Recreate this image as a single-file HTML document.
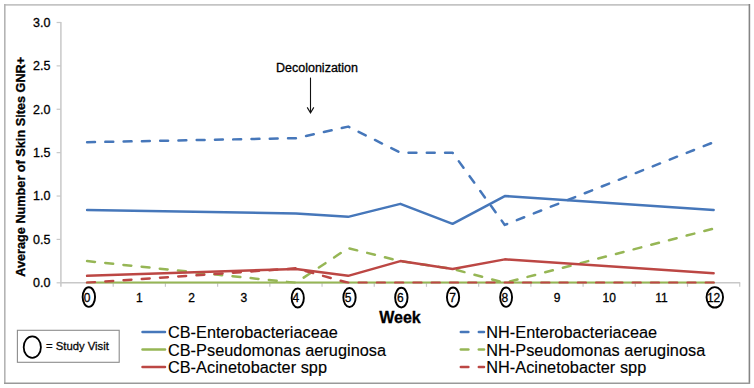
<!DOCTYPE html><html><head><meta charset="utf-8"><style>
html,body{margin:0;padding:0;background:#fff;}
svg{display:block;font-family:"Liberation Sans",sans-serif;} text{stroke:currentColor;stroke-width:0.3px;}
</style></head><body>
<svg width="754" height="388" viewBox="0 0 754 388">
<defs><clipPath id="pa"><rect x="55" y="10" width="690" height="273.4"/></clipPath></defs>
<rect width="754" height="388" fill="#fff"/>
<line x1="4" y1="4.8" x2="750" y2="4.8" stroke="#c4c4c4" stroke-width="1.7"/>
<line x1="4.8" y1="4" x2="4.8" y2="384" stroke="#b4b4b4" stroke-width="1.6"/>
<line x1="749.4" y1="4" x2="749.4" y2="384" stroke="#858585" stroke-width="1.6"/>
<line x1="4" y1="383.3" x2="750" y2="383.3" stroke="#999" stroke-width="1.6"/>
<line x1="60.9" y1="22" x2="60.9" y2="286.8" stroke="#c8c8c8" stroke-width="1.5"/>
<line x1="60.2" y1="282.8" x2="740.2" y2="282.8" stroke="#c8c8c8" stroke-width="1.5"/>
<line x1="56.6" y1="282.80" x2="61" y2="282.80" stroke="#c8c8c8" stroke-width="1.2"/>
<text x="50.5" y="287.10" font-size="12.5" text-anchor="end" fill="#000">0.0</text>
<line x1="56.6" y1="239.42" x2="61" y2="239.42" stroke="#c8c8c8" stroke-width="1.2"/>
<text x="50.5" y="243.72" font-size="12.5" text-anchor="end" fill="#000">0.5</text>
<line x1="56.6" y1="196.03" x2="61" y2="196.03" stroke="#c8c8c8" stroke-width="1.2"/>
<text x="50.5" y="200.33" font-size="12.5" text-anchor="end" fill="#000">1.0</text>
<line x1="56.6" y1="152.65" x2="61" y2="152.65" stroke="#c8c8c8" stroke-width="1.2"/>
<text x="50.5" y="156.95" font-size="12.5" text-anchor="end" fill="#000">1.5</text>
<line x1="56.6" y1="109.26" x2="61" y2="109.26" stroke="#c8c8c8" stroke-width="1.2"/>
<text x="50.5" y="113.56" font-size="12.5" text-anchor="end" fill="#000">2.0</text>
<line x1="56.6" y1="65.88" x2="61" y2="65.88" stroke="#c8c8c8" stroke-width="1.2"/>
<text x="50.5" y="70.18" font-size="12.5" text-anchor="end" fill="#000">2.5</text>
<line x1="56.6" y1="22.49" x2="61" y2="22.49" stroke="#c8c8c8" stroke-width="1.2"/>
<text x="50.5" y="26.79" font-size="12.5" text-anchor="end" fill="#000">3.0</text>
<line x1="113.21" y1="282.8" x2="113.21" y2="286.80" stroke="#c8c8c8" stroke-width="1.2"/>
<line x1="165.42" y1="282.8" x2="165.42" y2="286.80" stroke="#c8c8c8" stroke-width="1.2"/>
<line x1="217.63" y1="282.8" x2="217.63" y2="286.80" stroke="#c8c8c8" stroke-width="1.2"/>
<line x1="269.84" y1="282.8" x2="269.84" y2="286.80" stroke="#c8c8c8" stroke-width="1.2"/>
<line x1="322.05" y1="282.8" x2="322.05" y2="286.80" stroke="#c8c8c8" stroke-width="1.2"/>
<line x1="374.26" y1="282.8" x2="374.26" y2="286.80" stroke="#c8c8c8" stroke-width="1.2"/>
<line x1="426.47" y1="282.8" x2="426.47" y2="286.80" stroke="#c8c8c8" stroke-width="1.2"/>
<line x1="478.68" y1="282.8" x2="478.68" y2="286.80" stroke="#c8c8c8" stroke-width="1.2"/>
<line x1="530.89" y1="282.8" x2="530.89" y2="286.80" stroke="#c8c8c8" stroke-width="1.2"/>
<line x1="583.10" y1="282.8" x2="583.10" y2="286.80" stroke="#c8c8c8" stroke-width="1.2"/>
<line x1="635.31" y1="282.8" x2="635.31" y2="286.80" stroke="#c8c8c8" stroke-width="1.2"/>
<line x1="687.52" y1="282.8" x2="687.52" y2="286.80" stroke="#c8c8c8" stroke-width="1.2"/>
<line x1="739.73" y1="282.8" x2="739.73" y2="286.80" stroke="#c8c8c8" stroke-width="1.2"/>
<text x="87.10" y="301.8" font-size="12" text-anchor="middle" fill="#000">0</text>
<text x="139.31" y="301.8" font-size="12" text-anchor="middle" fill="#000">1</text>
<text x="191.52" y="301.8" font-size="12" text-anchor="middle" fill="#000">2</text>
<text x="243.73" y="301.8" font-size="12" text-anchor="middle" fill="#000">3</text>
<text x="295.94" y="301.8" font-size="12" text-anchor="middle" fill="#000">4</text>
<text x="348.15" y="301.8" font-size="12" text-anchor="middle" fill="#000">5</text>
<text x="400.36" y="301.8" font-size="12" text-anchor="middle" fill="#000">6</text>
<text x="452.57" y="301.8" font-size="12" text-anchor="middle" fill="#000">7</text>
<text x="504.78" y="301.8" font-size="12" text-anchor="middle" fill="#000">8</text>
<text x="556.99" y="301.8" font-size="12" text-anchor="middle" fill="#000">9</text>
<text x="609.20" y="301.8" font-size="12" text-anchor="middle" fill="#000">10</text>
<text x="661.41" y="301.8" font-size="12" text-anchor="middle" fill="#000">11</text>
<text x="713.62" y="301.8" font-size="12" text-anchor="middle" fill="#000">12</text>
<g clip-path="url(#pa)" fill="none" stroke-width="2.5" stroke-linejoin="round" stroke-linecap="round">
<polyline points="87.10,209.91 295.94,213.38 348.15,216.85 400.36,203.84 452.57,223.80 504.78,196.03 713.62,209.91" stroke="#4677ba"/>
<polyline points="87.10,142.23 295.94,138.15 348.15,126.61 400.36,152.65 452.57,152.65 504.78,224.92 713.62,142.23" stroke="#4677ba" stroke-dasharray="7.9 10.37"/>
<polyline points="87.10,282.80 295.94,282.80 348.15,282.80 400.36,282.80 452.57,282.80 504.78,282.80 713.62,282.80" stroke="#96b655"/>
<polyline points="87.10,261.11 295.94,282.80 348.15,248.09 400.36,261.11 452.57,268.92 504.78,282.80 713.62,228.57" stroke="#96b655" stroke-dasharray="7.9 10.37"/>
<polyline points="87.10,275.86 295.94,268.92 348.15,275.86 400.36,261.11 452.57,268.92 504.78,259.37 713.62,273.26" stroke="#bc4744"/>
<polyline points="87.10,282.80 295.94,268.31 348.15,282.80 400.36,282.80 452.57,282.80 504.78,282.80 713.62,282.80" stroke="#bc4744" stroke-dasharray="7.9 10.37"/>
</g>
<ellipse cx="88.85" cy="297.05" rx="6.20" ry="9.80" fill="none" stroke="#000" stroke-width="1.9"/>
<ellipse cx="297.75" cy="298" rx="6.10" ry="9.55" fill="none" stroke="#000" stroke-width="1.9"/>
<ellipse cx="349.5" cy="297.5" rx="6.15" ry="9.55" fill="none" stroke="#000" stroke-width="1.9"/>
<ellipse cx="401.35" cy="297.6" rx="6.20" ry="9.85" fill="none" stroke="#000" stroke-width="1.9"/>
<ellipse cx="453.05" cy="297.2" rx="6.10" ry="9.65" fill="none" stroke="#000" stroke-width="1.9"/>
<ellipse cx="506.1" cy="297.2" rx="5.95" ry="9.65" fill="none" stroke="#000" stroke-width="1.9"/>
<ellipse cx="714.8" cy="297.35" rx="8.25" ry="10.20" fill="none" stroke="#000" stroke-width="1.9"/>
<text transform="translate(25,166.8) rotate(-90)" font-size="12.7" font-weight="bold" text-anchor="middle" fill="#000">Average Number of Skin Sites GNR+</text>
<text x="400" y="322.8" font-size="16" font-weight="bold" text-anchor="middle" fill="#000">Week</text>
<text x="317" y="72.4" font-size="12.5" text-anchor="middle" fill="#000">Decolonization</text>
<line x1="310.5" y1="77.6" x2="310.5" y2="112.6" stroke="#111" stroke-width="1.1"/>
<polyline points="307.2,107.4 310.5,112.9 313.8,107.4" fill="none" stroke="#111" stroke-width="1.1"/>
<rect x="17.4" y="330.3" width="101.8" height="32" fill="#fff" stroke="#8c8c8c" stroke-width="1.1"/>
<ellipse cx="32.3" cy="347.15" rx="8.6" ry="10.75" fill="none" stroke="#000" stroke-width="1.8"/>
<text x="46" y="350.2" font-size="11.3" fill="#111">= Study Visit</text>
<line x1="142.5" y1="332.0" x2="165" y2="332.0" stroke="#4677ba" stroke-width="2.5" stroke-linecap="round"/>
<text x="167.9" y="338.0" font-size="16.3" letter-spacing="0.04" style="stroke-width:0.15px" fill="#000">CB-Enterobacteriaceae</text>
<line x1="142.5" y1="349.5" x2="165" y2="349.5" stroke="#96b655" stroke-width="2.5" stroke-linecap="round"/>
<text x="167.9" y="355.5" font-size="16.3" letter-spacing="0.04" style="stroke-width:0.15px" fill="#000">CB-Pseudomonas aeruginosa</text>
<line x1="142.5" y1="367.0" x2="165" y2="367.0" stroke="#bc4744" stroke-width="2.5" stroke-linecap="round"/>
<text x="167.9" y="373.0" font-size="16.3" letter-spacing="0.04" style="stroke-width:0.15px" fill="#000">CB-Acinetobacter spp</text>
<line x1="460.8" y1="331.9" x2="468.4" y2="331.9" stroke="#4677ba" stroke-width="2.5" stroke-linecap="round"/>
<line x1="478.8" y1="331.9" x2="484" y2="331.9" stroke="#4677ba" stroke-width="2.5" stroke-linecap="round"/>
<text x="486.2" y="338.0" font-size="16.3" letter-spacing="0.04" style="stroke-width:0.15px" fill="#000">NH-Enterobacteriaceae</text>
<line x1="460.8" y1="349.4" x2="468.4" y2="349.4" stroke="#96b655" stroke-width="2.5" stroke-linecap="round"/>
<line x1="478.8" y1="349.4" x2="484" y2="349.4" stroke="#96b655" stroke-width="2.5" stroke-linecap="round"/>
<text x="486.2" y="355.5" font-size="16.3" letter-spacing="0.04" style="stroke-width:0.15px" fill="#000">NH-Pseudomonas aeruginosa</text>
<line x1="460.8" y1="366.9" x2="468.4" y2="366.9" stroke="#bc4744" stroke-width="2.5" stroke-linecap="round"/>
<line x1="478.8" y1="366.9" x2="484" y2="366.9" stroke="#bc4744" stroke-width="2.5" stroke-linecap="round"/>
<text x="486.2" y="373.0" font-size="16.3" letter-spacing="0.04" style="stroke-width:0.15px" fill="#000">NH-Acinetobacter spp</text>
</svg></body></html>
